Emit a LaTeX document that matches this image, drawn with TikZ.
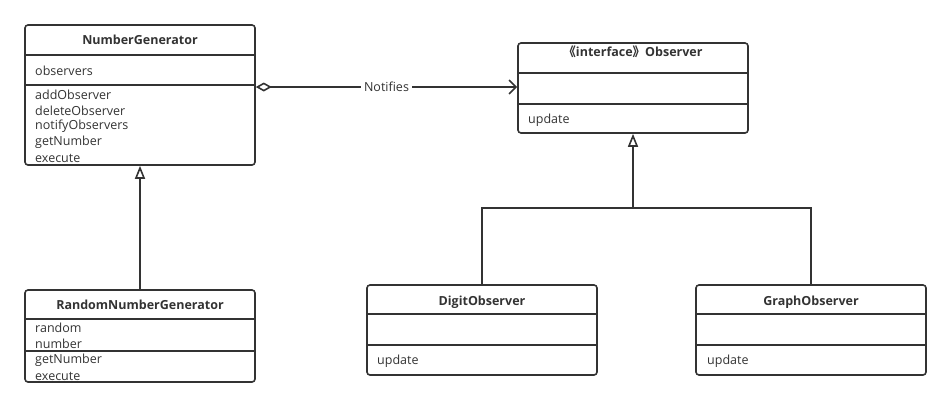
\documentclass[tikz,border=0pt]{standalone}
\usepackage{fontspec}
\setmainfont{Open Sans}
\newfontfamily\cjkfont{Noto Sans CJK SC}
\usetikzlibrary{arrows.meta}
\definecolor{umlgray}{HTML}{333333}
\tikzset{
  classbox/.style={draw=umlgray,line width=1.6pt,rounded corners=3pt,
    inner sep=0pt,minimum width=230pt},
  classtitle/.style={text=umlgray,font=\fontsize{12.5}{14}\selectfont\bfseries,inner sep=0pt},
  member/.style={text=umlgray,font=\fontsize{12.5}{14}\selectfont,anchor=west,inner sep=0pt},
  divider/.style={draw=umlgray,line width=1.6pt},
  inherit/.style={draw=umlgray,line width=1.6pt,-{Triangle[open,length=13pt,width=10pt]}},
  assoc/.style={draw=umlgray,line width=1.6pt,
    {Diamond[open,length=16pt,width=9pt]}-{Straight Barb[length=7pt,width=14pt]}}
}
\begin{document}
\begin{tikzpicture}[x=1pt,y=-1pt]
  \useasboundingbox (0,0) rectangle (951,408);
  %% NumberGenerator
  \node[classbox,minimum height=140pt] (ng) at (140,95) {};
  \draw[divider] (25,55) -- (255,55);
  \draw[divider] (25,85) -- (255,85);
  \node[classtitle] (ngtitle) at (140,40) {NumberGenerator};
  \node[member] (ngattr) at (35,71) {observers};
  \foreach \m [count=\i] in {addObserver,deleteObserver,notifyObservers,getNumber,execute}
    \node[member] (ngm\i) at (35,{79+\i*15.8}) {\m};
  %% RandomNumberGenerator
  \node[classbox,minimum height=92pt] (rng) at (140,336) {};
  \draw[divider] (25,319) -- (255,319);
  \draw[divider] (25,351) -- (255,351);
  \node[classtitle] (rngtitle) at (140,305) {RandomNumberGenerator};
  \foreach \m [count=\i] in {random,number,getNumber,execute}
    \node[member] (rngm\i) at (35,{312+\i*16}) {\m};
  %% Observer
  \node[classbox,minimum height=90pt] (obs) at (633,88) {};
  \draw[divider] (518,73) -- (748,73);
  \draw[divider] (518,104) -- (748,104);
  \node[classtitle] (obstitle) at (633,52) {{\cjkfont\bfseries 《}interface{\cjkfont\bfseries 》}Observer};
  \node[member] (obsm) at (528,120) {update};
  %% DigitObserver
  \node[classbox,minimum height=90pt] (dig) at (482,330) {};
  \draw[divider] (367,314) -- (597,314);
  \draw[divider] (367,345) -- (597,345);
  \node[classtitle] (digtitle) at (482,302) {DigitObserver};
  \node[member] (digm) at (377,361) {update};
  %% GraphObserver
  \node[classbox,minimum height=90pt] (gra) at (811,330) {};
  \draw[divider] (696,314) -- (926,314);
  \draw[divider] (696,345) -- (926,345);
  \node[classtitle] (gratitle) at (811,302) {GraphObserver};
  \node[member] (gram) at (707,361) {update};
  %% connectors
  \draw[assoc] (ng.east |- 0,87) -- (obs.west |- 0,87)
    node[midway,fill=white,text=umlgray,font=\fontsize{12.5}{14}\selectfont,inner sep=3pt] (notify) {Notifies};
  \draw[inherit] (rng.north) -- (ng.south);
  \coordinate (join) at (633,208);
  \draw[divider] (dig.north) |- (join);
  \draw[divider] (gra.north) |- (join);
  \draw[inherit] (join) -- (obs.south);
\end{tikzpicture}
\end{document}
